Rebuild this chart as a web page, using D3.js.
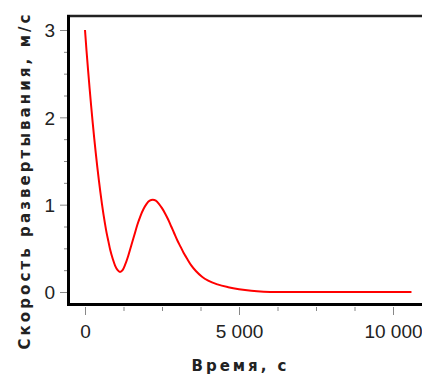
<!DOCTYPE html>
<html lang="ru">
<head>
<meta charset="utf-8">
<title>Скорость развертывания</title>
<script src="https://d3js.org/d3.v7.min.js"></script>
<style>
  body { margin: 0; background: #fff; }
  svg { display: block; }
</style>
</head>
<body>
<script>
// data: time (s) and speed (m/s)
const time  = [0, 50, 100, 150, 200, 250, 300, 350, 400, 450, 500, 550, 600, 650, 700, 760, 820, 900,
               980, 1060, 1136, 1220, 1300, 1400, 1500, 1600, 1700, 1800, 1900, 2000, 2100, 2200,
               2300, 2400, 2500, 2600, 2700, 2800, 2900, 3000, 3100, 3200, 3300, 3450, 3600, 3800,
               4000, 4300, 4650, 5000, 5400, 5800, 6200, 8000, 10600];
const speed = [3.0, 2.76, 2.54, 2.33, 2.13, 1.94, 1.76, 1.59, 1.43, 1.28, 1.14, 1.01, 0.89, 0.78, 0.68, 0.58, 0.48, 0.38,
               0.30, 0.25, 0.23, 0.25, 0.31, 0.41, 0.53, 0.65, 0.77, 0.87, 0.95, 1.01, 1.045, 1.055,
               1.045, 1.01, 0.96, 0.9, 0.83, 0.75, 0.67, 0.59, 0.52, 0.45, 0.39, 0.305, 0.24, 0.175,
               0.13, 0.087, 0.055, 0.032, 0.014, 0.004, 0, 0, 0];

const xTicks = [0, 5000, 10000];
const xTickLabels = ["0", "5 000", "10 000"];
const xMinor = [1250, 2500, 3750, 6250, 7500, 8750];
const yTicks = [0, 1, 2, 3];
const yTickLabels = ["0", "1", "2", "3"];
const yMinor = [0.25, 0.5, 0.75, 1.25, 1.5, 1.75, 2.25, 2.5, 2.75];

const xTitle = "Время, с";
const yTitle = "Скорость развертывания, м/с";

const width = 422, height = 374;

const svg = d3.select("body").append("svg")
  .attr("width", width)
  .attr("height", height);

const x = d3.scaleLinear().domain([0, 10000]).range([85, 393]);
const y = d3.scaleLinear().domain([0, 3]).range([292, 30]);

// minor ticks
svg.append("g")
  .attr("transform", "translate(0,307)")
  .call(d3.axisBottom(x).tickValues(xMinor).tickSize(4).tickFormat(""))
  .call(g => g.select(".domain").remove())
  .call(g => g.selectAll("line").attr("stroke", "#888"));

svg.append("g")
  .attr("transform", "translate(67,0)")
  .call(d3.axisLeft(y).tickValues(yMinor).tickSize(3).tickFormat(""))
  .call(g => g.select(".domain").remove())
  .call(g => g.selectAll("line").attr("stroke", "#888"));

// major ticks + labels
svg.append("g")
  .attr("transform", "translate(0,307)")
  .call(d3.axisBottom(x).tickValues(xTicks).tickSize(8)
        .tickFormat((d, i) => xTickLabels[i]))
  .call(g => g.select(".domain").remove())
  .call(g => g.selectAll("line").attr("stroke", "#888"))
  .call(g => g.selectAll("text")
      .attr("y", 31).attr("dy", 0)
      .attr("font-family", "Liberation Sans, Arial, sans-serif")
      .attr("font-size", 19)
      .attr("fill", "#222"));

svg.append("g")
  .attr("transform", "translate(67,0)")
  .call(d3.axisLeft(y).tickValues(yTicks).tickSize(7)
        .tickFormat((d, i) => yTickLabels[i]))
  .call(g => g.select(".domain").remove())
  .call(g => g.selectAll("line").attr("stroke", "#888"))
  .call(g => g.selectAll("text")
      .attr("x", -12).attr("dy", "0.36em")
      .attr("font-family", "Liberation Sans, Arial, sans-serif")
      .attr("font-size", 19)
      .attr("fill", "#222"));

// frame (left, top, bottom)
svg.append("line")
  .attr("x1", 67).attr("x2", 430).attr("y1", 16).attr("y2", 16)
  .attr("stroke", "#222").attr("stroke-width", 2.5);
svg.append("line")
  .attr("x1", 68.5).attr("x2", 68.5).attr("y1", 15).attr("y2", 306)
  .attr("stroke", "#000").attr("stroke-width", 3);
svg.append("line")
  .attr("x1", 67).attr("x2", 430).attr("y1", 304.5).attr("y2", 304.5)
  .attr("stroke", "#000").attr("stroke-width", 3);

// curve
const line = d3.line()
  .x((d, i) => x(time[i]))
  .y((d, i) => y(speed[i]))
  .curve(d3.curveMonotoneX);

svg.append("path")
  .datum(speed)
  .attr("d", line)
  .attr("fill", "none")
  .attr("stroke", "#ff0000")
  .attr("stroke-width", 2);

// axis titles
svg.append("text")
  .attr("x", 239)
  .attr("y", 371)
  .attr("text-anchor", "middle")
  .attr("font-family", "DejaVu Sans, Verdana, sans-serif")
  .attr("font-weight", "bold")
  .attr("font-size", 15)
  .attr("fill", "#222")
  .attr("textLength", 95)
  .attr("lengthAdjust", "spacing")
  .text(xTitle);

svg.append("text")
  .attr("transform", "translate(30,182) rotate(-90)")
  .attr("text-anchor", "middle")
  .attr("font-family", "DejaVu Sans, Verdana, sans-serif")
  .attr("font-weight", "bold")
  .attr("font-size", 15)
  .attr("fill", "#222")
  .attr("textLength", 335)
  .attr("lengthAdjust", "spacing")
  .text(yTitle);
</script>
</body>
</html>
